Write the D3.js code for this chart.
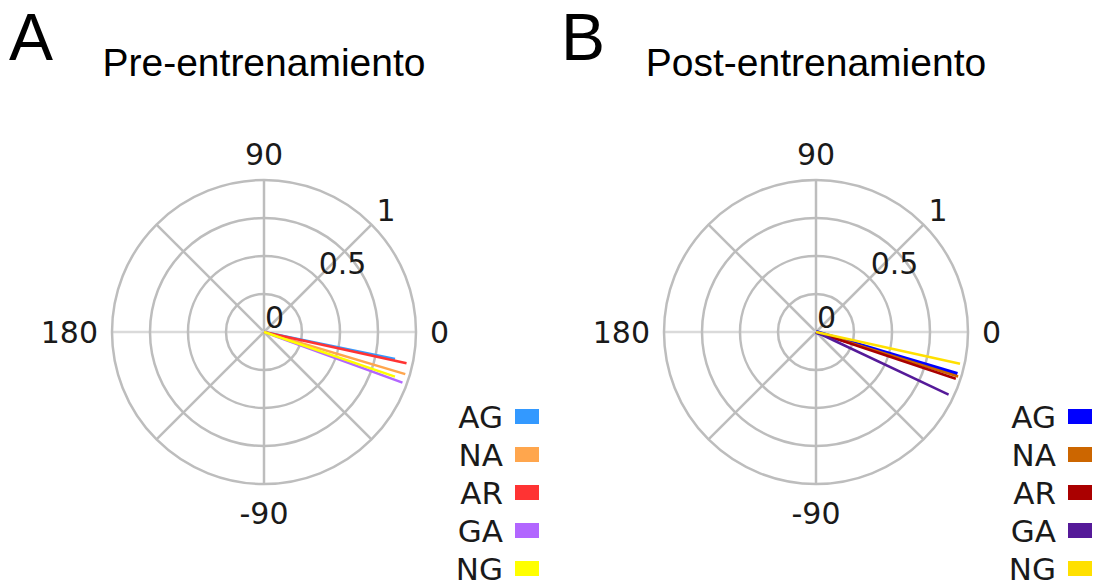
<!DOCTYPE html>
<html>
<head>
<meta charset="utf-8">
<script src="https://cdn.jsdelivr.net/npm/d3@7.9.0/dist/d3.min.js"></script>
<style>
  body { margin: 0; background: #fff; }
  svg { display: block; }
  text { font-family: "DejaVu Sans", Verdana, sans-serif; fill: #1a1a1a; }
  .title, .panel { font-family: "Liberation Sans", Arial, sans-serif; fill: #000; }
</style>
</head>
<body>
<svg id="chart" width="1096" height="586"></svg>
<script>
// groups shown in the legend
const groups = ['AG', 'NA', 'AR', 'GA', 'NG'];

// pre-training: phase angle (degrees) and magnitude per group
const preAngles = [-11.6, -16.6, -12.4, -20.1, -18.8];
const preValues = [0.88, 0.97, 0.96, 0.97, 0.91];
const preColors = ['#3399ff', '#ffa64d', '#ff3333', '#b266ff', '#ffff00'];

// post-training
const postAngles = [-16.5, -17.4, -18.5, -25.3, -12.4];
const postValues = [0.97, 0.98, 0.97, 0.965, 0.97];
const postColors = ['#0000ff', '#cc6600', '#aa0000', '#551a99', '#ffe000'];

const radialTicks = [0, 0.5, 1];
const ringValues = [0.25, 0.5, 0.75, 1];
const angleTicks = [0, 90, 180, -90];

const svg = d3.select('#chart');
const R = 152;

function drawPanel(opts) {
  const g = svg.append('g').attr('transform', `translate(${opts.cx},${opts.cy})`);

  const r = d3.scaleLinear().domain([0, 1]).range([0, R]);
  // degrees counter-clockwise from 3 o'clock -> d3 radial angle (clockwise from 12)
  const a = d3.scaleLinear().domain([0, 360]).range([Math.PI / 2, Math.PI / 2 - 2 * Math.PI]);

  // spokes every 45 degrees
  d3.range(0, 360, 45).forEach(deg => {
    g.append('line')
      .attr('x1', 0).attr('y1', 0)
      .attr('x2', r(1) * Math.sin(a(deg)))
      .attr('y2', -r(1) * Math.cos(a(deg)))
      .attr('stroke', deg % 180 === 0 ? '#dadada' : '#bdbdbd')
      .attr('stroke-width', 2.5);
  });

  // rings
  g.selectAll('circle.ring').data(ringValues).join('circle')
    .attr('class', 'ring')
    .attr('r', d => r(d))
    .attr('fill', 'none')
    .attr('stroke', '#bdbdbd')
    .attr('stroke-width', 2.5);

  // radial tick labels along 45 degrees
  radialTicks.forEach(v => {
    const x = r(v) * Math.sin(a(45));
    const y = -r(v) * Math.cos(a(45));
    g.append('text')
      .attr('x', x + (v === 1 ? 5 : 1))
      .attr('y', y - 4)
      .attr('font-size', 30)
      .text(v);
  });

  // angular tick labels
  angleTicks.forEach(deg => {
    const rr = R + 14;
    const x = rr * Math.sin(a(deg));
    const y = -rr * Math.cos(a(deg));
    let anchor = 'middle';
    if (deg === 0) anchor = 'start';
    if (deg === 180) anchor = 'end';
    let dy = '0.35em';
    if (deg === 90) dy = '-0.05em';
    if (deg === -90) dy = '0.85em';
    g.append('text')
      .attr('x', x).attr('y', y)
      .attr('dy', dy)
      .attr('text-anchor', anchor)
      .attr('font-size', 30)
      .text(deg);
  });

  // vectors
  const line = d3.lineRadial()
    .angle(d => a(d.angle))
    .radius(d => r(d.value));

  groups.forEach((grp, i) => {
    g.append('path')
      .attr('d', line([{ angle: opts.angles[i], value: 0 }, { angle: opts.angles[i], value: opts.values[i] }]))
      .attr('fill', 'none')
      .attr('stroke', opts.colors[i])
      .attr('stroke-width', opts.widths ? opts.widths[i] : 2.5);
  });

  // panel letter and title
  svg.append('text').attr('class', 'panel')
    .attr('x', opts.letterX).attr('y', 60)
    .attr('font-size', 66)
    .text(opts.letter);
  svg.append('text').attr('class', 'title')
    .attr('x', opts.cx).attr('y', 76)
    .attr('text-anchor', 'middle')
    .attr('font-size', 39)
    .text(opts.title);

  // legend
  const lg = svg.append('g');
  groups.forEach((grp, i) => {
    const y = 417 + i * 38;
    lg.append('text')
      .attr('x', opts.legendX - 12).attr('y', y)
      .attr('dy', '0.36em')
      .attr('text-anchor', 'end')
      .attr('font-size', 31)
      .attr('fill', '#111')
      .text(grp);
    lg.append('rect')
      .attr('x', opts.legendX).attr('y', y - 8)
      .attr('width', 24).attr('height', 15)
      .attr('fill', opts.colors[i]);
  });
}

drawPanel({
  cx: 264, cy: 332, letter: 'A', letterX: 9, title: 'Pre-entrenamiento',
  angles: preAngles, values: preValues, colors: preColors, legendX: 515
});

drawPanel({
  cx: 816, cy: 332, letter: 'B', letterX: 561, title: 'Post-entrenamiento',
  angles: postAngles, values: postValues, colors: postColors, legendX: 1068,
  widths: [4, 2.5, 2.5, 2.5, 2.5]
});
</script>
</body>
</html>
